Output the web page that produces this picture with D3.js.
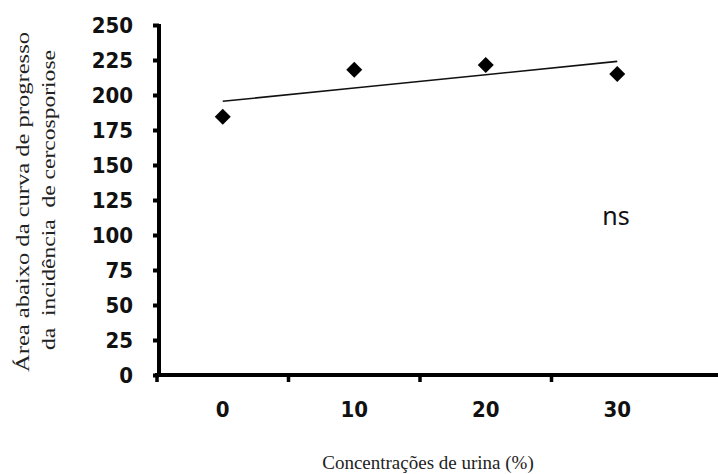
<!DOCTYPE html>
<html>
<head>
<meta charset="utf-8">
<script src="https://cdn.jsdelivr.net/npm/d3@7"></script>
<style>
  body { margin: 0; background: #fff; }
  svg { display: block; }
  .tick text { font-family: "DejaVu Sans Condensed", "DejaVu Sans", sans-serif; font-weight: bold; font-size: 22px; fill: #111; }
  .title { font-family: "Liberation Serif", serif; font-size: 19px; fill: #222; white-space: pre; }
</style>
</head>
<body>
<svg id="chart" width="718" height="474"></svg>
<script>
var categories = ["0", "10", "20", "30"];
var values = [184.5, 218, 221.5, 215];
var yTicks = [0, 25, 50, 75, 100, 125, 150, 175, 200, 225, 250];
var yTitle = ["Área abaixo da curva de progresso", "da  incidência  de cercosporiose"];
var xTitle = "Concentrações de urina (%)";

var svg = d3.select('#chart');

var x = d3.scaleBand().domain(categories).range([157, 683]).padding(0);
var y = d3.scaleLinear().domain([0, 250]).range([375, 25]);

// least squares trend through the four means
var mx = d3.mean(values, (d, i) => i), my = d3.mean(values);
var slope = d3.sum(values, (d, i) => (i - mx) * (d - my)) / d3.sum(values, (d, i) => (i - mx) * (i - mx));
var trend = categories.map((c, i) => ({c: c, v: my + slope * (i - mx)}));

// y axis
var yAxis = svg.append('g')
  .attr('transform', 'translate(159,0)')
  .call(d3.axisLeft(y).tickValues(yTicks).tickSize(6).tickPadding(20).tickSizeOuter(0));
yAxis.select('.domain').attr('stroke', '#000').attr('stroke-width', 4).attr('d', 'M0,' + (y(250) - 1) + 'V' + (y(0) + 2));
yAxis.selectAll('.tick line').attr('stroke', '#000').attr('stroke-width', 4);
yAxis.selectAll('.tick text').attr('dy', '0.36em');

// x axis
var xAxis = svg.append('g')
  .attr('transform', 'translate(0,' + y(0) + ')')
  .call(d3.axisBottom(x).tickSize(0).tickPadding(26));
xAxis.select('.domain').attr('stroke', '#000').attr('stroke-width', 4).attr('d', 'M155,0H718');
xAxis.selectAll('.xtick')
  .data(categories)
  .enter().append('line')
  .attr('class', 'xtick')
  .attr('x1', (d) => x(d)).attr('x2', (d) => x(d))
  .attr('y1', 0).attr('y2', 7)
  .attr('stroke', '#000')
  .attr('stroke-width', 3.5);

// trend line
svg.append('path')
  .datum(trend)
  .attr('fill', 'none')
  .attr('stroke', '#111')
  .attr('stroke-width', 1.6)
  .attr('d', d3.line().x((d) => x(d.c) + x.bandwidth() / 2).y((d) => y(d.v)));

// points
svg.selectAll('.pt')
  .data(values)
  .enter().append('path')
  .attr('class', 'pt')
  .attr('d', d3.symbol().type(d3.symbolSquare).size(128))
  .attr('transform', (d, i) => 'translate(' + (x(categories[i]) + x.bandwidth() / 2) + ',' + y(d) + ') rotate(45)')
  .attr('fill', '#000');

// significance note
svg.append('text')
  .attr('x', 616).attr('y', 225)
  .attr('text-anchor', 'middle')
  .style('font-family', '"Noto Sans", sans-serif')
  .style('font-size', '25px')
  .attr('fill', '#111')
  .text('ns');

// axis titles (the source stretches these along their length)
var yTitleLen = [340, 300];
svg.selectAll('.ytitle')
  .data(yTitle)
  .enter().append('text')
  .attr('class', 'title ytitle')
  .attr('text-anchor', 'middle')
  .attr('textLength', (d, i) => yTitleLen[i])
  .attr('lengthAdjust', 'spacingAndGlyphs')
  .attr('transform', (d, i) => 'translate(' + (29 + i * 26) + ',' + (202 - i * 2) + ') rotate(-90)')
  .text((d) => d);

svg.append('text')
  .attr('class', 'title')
  .attr('x', 428).attr('y', 469)
  .attr('text-anchor', 'middle')
  .text(xTitle);
</script>
</body>
</html>
